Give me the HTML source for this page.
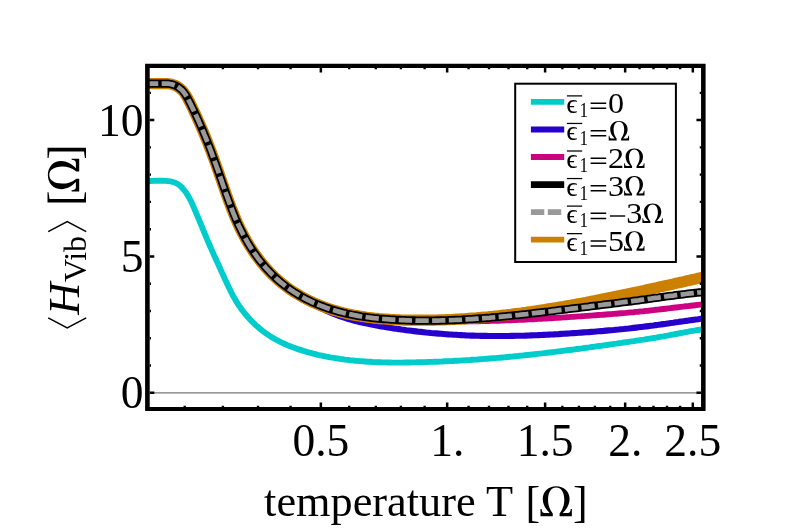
<!DOCTYPE html><html><head><meta charset="utf-8"><title>plot</title><style>html,body{margin:0;padding:0;background:#fff}svg{display:block;will-change:transform}text{font-family:"Liberation Serif",serif;fill:#000}</style></head><body>
<svg width="806" height="528" viewBox="0 0 806 528">
<rect width="806" height="528" fill="#fff"/>
<defs><path id="om" d="M0 0V-80H12C14 -55 22 -35 45 -35H100C55 -80 25 -130 25 -190C25 -275 90 -330 172.5 -330C255 -330 320 -275 320 -190C320 -130 290 -80 245 -35H300C323 -35 331 -55 333 -80H345V0H210V-30C245 -75 262 -120 262 -180C262 -265 225 -315 172.5 -315C120 -315 83 -265 83 -180C83 -120 100 -75 135 -30V0Z"/></defs>
<defs><clipPath id="c"><rect x="147.30" y="65.75" width="556.05" height="343.15"/></clipPath></defs>
<line x1="149.70" y1="392.80" x2="701.05" y2="392.80" stroke="#777" stroke-width="1.3"/>
<g clip-path="url(#c)" fill="none" stroke-linejoin="round">
<path d="M143.0 181.0 145.5 181.0 148.0 181.0 150.5 181.0 153.0 180.9 155.5 180.8 158.0 180.8 160.5 180.8 163.0 180.8 165.5 180.9 168.0 181.1 170.5 181.4 172.9 182.0 175.3 182.8 177.5 183.9 179.6 185.4 181.4 187.1 183.1 188.9 184.7 190.8 186.2 192.8 187.5 194.9 188.8 197.1 190.0 199.3 191.1 201.5 192.2 203.8 193.2 206.1 194.2 208.4 195.2 210.7 196.2 213.0 197.1 215.3 198.1 217.6 199.1 219.9 200.0 222.2 201.0 224.5 201.9 226.8 202.9 229.1 203.8 231.5 204.8 233.8 205.8 236.1 206.7 238.4 207.7 240.7 208.7 243.0 209.7 245.3 210.7 247.6 211.7 249.9 212.7 252.1 213.7 254.4 214.8 256.7 215.8 259.0 216.8 261.3 217.9 263.6 218.9 265.8 219.9 268.1 221.0 270.4 222.0 272.7 223.1 274.9 224.1 277.2 225.1 279.5 226.2 281.8 227.2 284.0 228.3 286.3 229.4 288.6 230.5 290.8 231.6 293.0 232.7 295.3 234.0 297.4 235.2 299.6 236.5 301.8 237.8 303.9 239.2 306.0 240.7 308.0 242.1 310.0 243.7 312.0 245.2 314.0 246.8 315.9 248.5 317.7 250.2 319.6 251.9 321.4 253.7 323.1 255.5 324.9 257.4 326.5 259.3 328.2 261.2 329.8 263.2 331.3 265.2 332.8 267.2 334.2 269.3 335.6 271.4 337.0 273.6 338.3 275.7 339.5 277.9 340.7 280.2 341.8 282.4 342.9 284.7 344.0 287.0 345.0 289.3 345.9 291.6 346.8 294.0 347.7 296.3 348.6 298.7 349.4 301.1 350.1 303.5 350.9 305.9 351.6 308.3 352.3 310.7 352.9 313.1 353.6 315.5 354.2 318.0 354.8 320.4 355.3 322.8 355.8 325.3 356.3 327.8 356.8 330.2 357.3 332.7 357.7 335.1 358.1 337.6 358.5 340.1 358.9 342.6 359.2 345.0 359.6 347.5 359.9 350.0 360.2 352.5 360.4 355.0 360.7 357.5 360.9 360.0 361.1 362.5 361.3 365.0 361.5 367.5 361.7 370.0 361.8 372.5 362.0 375.0 362.1 377.5 362.2 380.0 362.3 382.5 362.4 385.0 362.4 387.5 362.5 390.0 362.5 392.5 362.6 395.0 362.6 397.5 362.6 400.0 362.6 402.5 362.6 405.0 362.5 407.5 362.5 410.0 362.5 412.5 362.4 415.0 362.4 417.5 362.3 420.0 362.3 422.5 362.2 425.0 362.1 427.5 362.0 430.0 361.9 432.5 361.9 435.0 361.8 437.5 361.7 440.0 361.6 442.5 361.5 445.0 361.3 447.5 361.2 450.0 361.1 452.5 361.0 455.0 360.8 457.5 360.7 460.0 360.6 462.5 360.4 465.0 360.3 467.5 360.1 470.0 360.0 472.5 359.8 475.0 359.6 477.5 359.5 480.0 359.3 482.4 359.1 484.9 358.9 487.4 358.7 489.9 358.5 492.4 358.3 494.9 358.1 497.4 357.9 499.9 357.7 502.4 357.5 504.9 357.3 507.4 357.0 509.9 356.8 512.4 356.6 514.9 356.3 517.3 356.1 519.8 355.8 522.3 355.6 524.8 355.3 527.3 355.0 529.8 354.8 532.3 354.5 534.8 354.2 537.2 353.9 539.7 353.6 542.2 353.4 544.7 353.1 547.2 352.8 549.7 352.5 552.2 352.2 554.6 351.9 557.1 351.6 559.6 351.3 562.1 350.9 564.6 350.6 567.0 350.3 569.5 350.0 572.0 349.7 574.5 349.4 577.0 349.0 579.5 348.7 581.9 348.4 584.4 348.0 586.9 347.7 589.4 347.4 591.9 347.0 594.3 346.7 596.8 346.3 599.3 346.0 601.8 345.7 604.2 345.3 606.7 345.0 609.2 344.6 611.7 344.3 614.2 343.9 616.6 343.6 619.1 343.2 621.6 342.9 624.1 342.5 626.5 342.1 629.0 341.8 631.5 341.4 634.0 341.1 636.4 340.7 638.9 340.3 641.4 339.9 643.9 339.6 646.3 339.2 648.8 338.8 651.3 338.4 653.7 338.0 656.2 337.6 658.7 337.1 661.1 336.7 663.6 336.3 666.1 335.8 668.5 335.4 671.0 334.9 673.4 334.5 675.9 334.0 678.4 333.5 680.8 333.0 683.3 332.6 685.7 332.1 688.2 331.7 690.7 331.2 693.1 330.8 695.6 330.4 698.1 330.0 700.5 329.7 703.0 329.4 705.5 329.1 708.0 328.8" stroke="#00cccc" stroke-width="5.9"/>
<path d="M143.0 83.6 145.5 83.6 148.0 83.7 150.5 83.7 153.0 83.7 155.5 83.7 158.0 83.7 160.5 83.6 163.0 83.6 165.5 83.6 168.0 83.7 170.5 84.0 172.9 84.6 175.3 85.5 177.5 86.6 179.6 88.1 181.5 89.7 183.2 91.5 184.7 93.5 186.1 95.6 187.4 97.7 188.5 99.9 189.7 102.2 190.8 104.4 191.9 106.7 193.0 108.9 194.0 111.2 195.1 113.5 196.2 115.7 197.2 118.0 198.2 120.3 199.3 122.6 200.3 124.9 201.3 127.2 202.3 129.5 203.2 131.8 204.2 134.1 205.2 136.4 206.1 138.7 207.1 141.0 208.0 143.3 208.9 145.7 209.8 148.0 210.7 150.4 211.6 152.7 212.4 155.0 213.3 157.4 214.2 159.7 215.0 162.1 215.9 164.5 216.7 166.8 217.5 169.2 218.4 171.5 219.2 173.9 220.0 176.3 220.8 178.6 221.7 181.0 222.5 183.4 223.3 185.7 224.1 188.1 225.0 190.4 225.8 192.8 226.6 195.2 227.5 197.5 228.3 199.9 229.2 202.2 230.1 204.6 230.9 206.9 231.8 209.3 232.8 211.6 233.7 213.9 234.6 216.2 235.6 218.5 236.6 220.8 237.6 223.1 238.7 225.4 239.7 227.7 240.8 229.9 241.9 232.2 243.1 234.4 244.3 236.6 245.5 238.8 246.7 241.0 248.0 243.1 249.3 245.3 250.6 247.4 252.0 249.5 253.3 251.6 254.8 253.6 256.2 255.7 257.7 257.7 259.2 259.7 260.7 261.7 262.3 263.6 263.9 265.5 265.5 267.4 267.2 269.3 268.9 271.2 270.6 273.0 272.4 274.7 274.2 276.5 276.0 278.2 277.9 279.9 279.7 281.5 281.7 283.1 283.6 284.7 285.6 286.2 287.6 287.7 289.7 289.2 291.7 290.6 293.8 291.9 295.9 293.3 298.0 294.7 300.1 296.1 302.2 297.4 304.3 298.7 306.5 300.1 308.6 301.3 310.8 302.6 313.0 303.8 315.2 305.0 317.4 306.2 319.6 307.4 321.8 308.5 324.1 309.6 326.3 310.7 328.6 311.7 330.9 312.7 333.2 313.7 335.6 314.6 337.9 315.5 340.3 316.3 342.6 317.1 345.0 317.9 347.4 318.7 349.8 319.4 352.2 320.1 354.6 320.7 357.0 321.4 359.5 322.0 361.9 322.5 364.3 323.1 366.8 323.6 369.2 324.1 371.7 324.6 374.1 325.1 376.6 325.6 379.1 326.0 381.5 326.4 384.0 326.8 386.5 327.3 389.0 327.6 391.4 328.0 393.9 328.4 396.4 328.8 398.9 329.1 401.3 329.5 403.8 329.8 406.3 330.2 408.8 330.5 411.3 330.8 413.8 331.1 416.2 331.4 418.7 331.7 421.2 331.9 423.7 332.2 426.2 332.5 428.7 332.7 431.2 333.0 433.7 333.2 436.2 333.4 438.7 333.6 441.2 333.8 443.7 334.0 446.1 334.2 448.6 334.4 451.1 334.5 453.6 334.7 456.1 334.8 458.6 335.0 461.1 335.1 463.6 335.2 466.1 335.4 468.6 335.5 471.1 335.6 473.6 335.6 476.2 335.7 478.7 335.8 481.2 335.9 483.7 335.9 486.2 335.9 488.7 336.0 491.2 336.0 493.7 336.0 496.2 336.0 498.7 336.0 501.2 336.0 503.7 336.0 506.2 336.0 508.7 336.0 511.2 335.9 513.7 335.9 516.2 335.8 518.7 335.8 521.2 335.7 523.7 335.7 526.2 335.6 528.7 335.5 531.2 335.4 533.7 335.3 536.2 335.2 538.7 335.1 541.2 335.0 543.7 334.9 546.2 334.8 548.7 334.6 551.2 334.5 553.7 334.4 556.2 334.2 558.7 334.1 561.2 333.9 563.7 333.8 566.2 333.6 568.7 333.5 571.2 333.3 573.7 333.1 576.2 333.0 578.7 332.8 581.2 332.6 583.7 332.4 586.2 332.3 588.7 332.1 591.2 331.9 593.7 331.7 596.2 331.5 598.7 331.3 601.2 331.1 603.7 330.9 606.2 330.6 608.7 330.4 611.2 330.2 613.7 330.0 616.1 329.7 618.6 329.5 621.1 329.2 623.6 329.0 626.1 328.7 628.6 328.5 631.1 328.2 633.6 327.9 636.1 327.6 638.6 327.3 641.0 327.0 643.5 326.7 646.0 326.4 648.5 326.1 651.0 325.8 653.5 325.5 655.9 325.1 658.4 324.8 660.9 324.4 663.4 324.1 665.9 323.8 668.3 323.4 670.8 323.0 673.3 322.7 675.8 322.3 678.2 322.0 680.7 321.6 683.2 321.3 685.7 320.9 688.2 320.6 690.6 320.2 693.1 319.9 695.6 319.5 698.1 319.2 700.6 318.8 703.0 318.5 705.5 318.1 708.0 317.8" stroke="#2600cc" stroke-width="6.1"/>
<path d="M143.0 83.6 145.5 83.6 148.0 83.7 150.5 83.7 153.0 83.7 155.5 83.7 158.0 83.7 160.5 83.6 163.0 83.6 165.5 83.6 168.0 83.7 170.5 84.0 172.9 84.6 175.3 85.5 177.5 86.6 179.5 88.0 181.4 89.7 183.1 91.5 184.7 93.5 186.1 95.5 187.3 97.7 188.5 99.9 189.6 102.1 190.8 104.4 191.9 106.6 192.9 108.9 194.0 111.1 195.1 113.4 196.1 115.7 197.2 117.9 198.2 120.2 199.2 122.5 200.2 124.8 201.2 127.1 202.2 129.4 203.2 131.7 204.2 134.0 205.1 136.3 206.1 138.6 207.0 140.9 207.9 143.3 208.8 145.6 209.7 147.9 210.6 150.3 211.5 152.6 212.4 154.9 213.3 157.3 214.1 159.6 215.0 162.0 215.8 164.3 216.7 166.7 217.5 169.1 218.3 171.4 219.2 173.8 220.0 176.1 220.8 178.5 221.6 180.9 222.4 183.2 223.3 185.6 224.1 187.9 224.9 190.3 225.7 192.7 226.6 195.0 227.4 197.4 228.3 199.7 229.1 202.1 230.0 204.4 230.9 206.8 231.8 209.1 232.7 211.4 233.6 213.8 234.6 216.1 235.5 218.4 236.5 220.7 237.6 223.0 238.6 225.2 239.7 227.5 240.7 229.7 241.9 232.0 243.0 234.2 244.2 236.4 245.4 238.6 246.6 240.8 247.9 242.9 249.2 245.1 250.5 247.2 251.8 249.3 253.2 251.4 254.6 253.5 256.1 255.5 257.6 257.5 259.1 259.5 260.6 261.5 262.2 263.5 263.8 265.4 265.4 267.3 267.0 269.1 268.7 271.0 270.5 272.8 272.2 274.6 274.0 276.3 275.8 278.0 277.7 279.7 279.6 281.4 281.5 283.0 283.4 284.5 285.4 286.1 287.4 287.6 289.5 289.0 291.5 290.4 293.6 291.8 295.7 293.1 297.9 294.4 300.0 295.7 302.2 296.9 304.4 298.1 306.6 299.3 308.8 300.4 311.1 301.5 313.4 302.6 315.7 303.6 318.0 304.5 320.3 305.5 322.6 306.4 325.0 307.3 327.3 308.1 329.7 308.9 332.1 309.7 334.5 310.4 336.9 311.1 339.3 311.8 341.7 312.4 344.1 313.0 346.5 313.6 349.0 314.1 351.4 314.6 353.9 315.1 356.4 315.6 358.8 316.0 361.3 316.4 363.8 316.8 366.2 317.1 368.7 317.4 371.2 317.7 373.7 318.0 376.2 318.3 378.7 318.5 381.1 318.8 383.6 319.0 386.1 319.2 388.6 319.4 391.1 319.5 393.6 319.7 396.1 319.8 398.6 320.0 401.1 320.1 403.6 320.2 406.1 320.3 408.6 320.4 411.1 320.4 413.6 320.5 416.1 320.6 418.6 320.6 421.1 320.6 423.6 320.6 426.1 320.7 428.6 320.7 431.1 320.8 433.6 320.9 436.1 321.0 438.6 321.0 441.1 321.1 443.6 321.1 446.1 321.2 448.6 321.2 451.1 321.2 453.6 321.3 456.1 321.3 458.6 321.3 461.1 321.3 463.6 321.3 466.1 321.3 468.6 321.3 471.1 321.2 473.6 321.2 476.1 321.2 478.6 321.2 481.1 321.1 483.6 321.1 486.1 321.0 488.6 321.0 491.1 320.9 493.6 320.8 496.1 320.7 498.6 320.7 501.1 320.6 503.6 320.5 506.1 320.4 508.6 320.3 511.1 320.2 513.6 320.1 516.1 320.0 518.6 319.9 521.1 319.8 523.6 319.7 526.1 319.6 528.6 319.4 531.1 319.3 533.6 319.2 536.1 319.0 538.6 318.9 541.1 318.8 543.6 318.6 546.1 318.5 548.6 318.3 551.1 318.2 553.6 318.0 556.1 317.9 558.6 317.7 561.1 317.6 563.6 317.4 566.1 317.3 568.6 317.1 571.1 316.9 573.6 316.8 576.1 316.6 578.6 316.4 581.1 316.3 583.6 316.1 586.1 315.9 588.5 315.8 591.0 315.6 593.5 315.4 596.0 315.2 598.5 315.0 601.0 314.9 603.5 314.7 606.0 314.5 608.5 314.3 611.0 314.1 613.5 313.9 616.0 313.7 618.5 313.5 621.0 313.3 623.5 313.1 626.0 312.9 628.4 312.6 630.9 312.4 633.4 312.2 635.9 311.9 638.4 311.7 640.9 311.4 643.4 311.2 645.9 310.9 648.4 310.7 650.8 310.4 653.3 310.1 655.8 309.8 658.3 309.6 660.8 309.3 663.3 309.0 665.8 308.7 668.2 308.4 670.7 308.1 673.2 307.8 675.7 307.5 678.2 307.2 680.7 306.9 683.1 306.6 685.6 306.3 688.1 306.1 690.6 305.8 693.1 305.5 695.6 305.2 698.1 304.9 700.5 304.6 703.0 304.4 705.5 304.1 708.0 303.8" stroke="#cc0080" stroke-width="5.9"/>
<path d="M143.0 83.6 145.5 83.6 148.0 83.7 150.5 83.7 153.0 83.7 155.5 83.7 158.0 83.7 160.5 83.6 163.0 83.6 165.5 83.6 168.0 83.7 170.5 84.0 173.0 84.6 175.3 85.5 177.5 86.6 179.6 88.1 181.5 89.7 183.2 91.5 184.7 93.5 186.1 95.6 187.4 97.7 188.5 100.0 189.7 102.2 190.8 104.4 191.9 106.7 193.0 108.9 194.0 111.2 195.1 113.5 196.2 115.7 197.2 118.0 198.2 120.3 199.3 122.6 200.3 124.9 201.3 127.2 202.3 129.5 203.3 131.8 204.2 134.1 205.2 136.4 206.1 138.7 207.1 141.0 208.0 143.4 208.9 145.7 209.8 148.0 210.7 150.4 211.6 152.7 212.4 155.1 213.3 157.4 214.2 159.8 215.0 162.1 215.9 164.5 216.7 166.8 217.5 169.2 218.4 171.5 219.2 173.9 220.0 176.3 220.8 178.6 221.7 181.0 222.5 183.4 223.3 185.7 224.1 188.1 225.0 190.5 225.8 192.8 226.6 195.2 227.5 197.5 228.3 199.9 229.2 202.2 230.1 204.6 230.9 206.9 231.8 209.3 232.8 211.6 233.7 213.9 234.6 216.2 235.6 218.5 236.6 220.8 237.6 223.1 238.7 225.4 239.7 227.7 240.8 229.9 242.0 232.2 243.1 234.4 244.3 236.6 245.5 238.8 246.7 241.0 248.0 243.1 249.3 245.3 250.6 247.4 252.0 249.5 253.4 251.6 254.8 253.7 256.2 255.7 257.7 257.7 259.2 259.7 260.7 261.7 262.3 263.6 263.9 265.6 265.6 267.5 267.2 269.3 268.9 271.2 270.6 273.0 272.4 274.8 274.2 276.5 276.0 278.2 277.9 279.9 279.8 281.5 281.7 283.1 283.7 284.7 285.6 286.2 287.7 287.7 289.7 289.2 291.8 290.6 293.9 292.0 296.0 293.3 298.1 294.6 300.3 295.9 302.5 297.1 304.7 298.3 306.9 299.4 309.1 300.6 311.4 301.6 313.7 302.7 315.9 303.7 318.3 304.7 320.6 305.6 322.9 306.5 325.3 307.4 327.6 308.2 330.0 309.0 332.4 309.8 334.8 310.5 337.2 311.2 339.6 311.9 342.0 312.5 344.4 313.1 346.9 313.7 349.3 314.2 351.8 314.7 354.2 315.2 356.7 315.6 359.2 316.0 361.6 316.4 364.1 316.8 366.6 317.2 369.1 317.5 371.6 317.8 374.1 318.1 376.5 318.3 379.0 318.6 381.5 318.8 384.0 319.0 386.5 319.2 389.0 319.4 391.5 319.6 394.0 319.7 396.5 319.8 399.0 319.9 401.5 320.0 404.0 320.1 406.5 320.1 409.0 320.2 411.5 320.2 414.0 320.2 416.5 320.2 419.0 320.2 421.6 320.2 424.1 320.2 426.6 320.2 429.1 320.1 431.6 320.1 434.1 320.1 436.6 320.0 439.1 319.9 441.6 319.9 444.1 319.8 446.6 319.7 449.1 319.6 451.6 319.5 454.1 319.3 456.6 319.2 459.1 319.1 461.6 318.9 464.1 318.8 466.6 318.6 469.1 318.4 471.6 318.2 474.1 318.1 476.6 317.9 479.1 317.6 481.6 317.4 484.1 317.2 486.6 317.0 489.0 316.7 491.5 316.5 494.0 316.2 496.5 316.0 499.0 315.7 501.5 315.4 504.0 315.1 506.5 314.9 509.0 314.6 511.4 314.3 513.9 313.9 516.4 313.6 518.9 313.3 521.4 313.0 523.9 312.6 526.3 312.3 528.8 311.9 531.3 311.6 533.8 311.2 536.2 310.9 538.7 310.5 541.2 310.1 543.7 309.7 546.1 309.3 548.6 308.9 551.1 308.5 553.6 308.1 556.0 307.7 558.5 307.3 561.0 306.9 563.4 306.5 565.9 306.0 568.4 305.6 570.8 305.2 573.3 304.7 575.8 304.3 578.2 303.8 580.7 303.4 583.1 302.9 585.6 302.5 588.1 302.0 590.5 301.5 593.0 301.0 595.4 300.6 597.9 300.1 600.4 299.6 602.8 299.1 605.3 298.6 607.7 298.1 610.2 297.6 612.6 297.1 615.1 296.6 617.5 296.1 620.0 295.6 622.4 295.1 624.9 294.6 627.3 294.0 629.8 293.5 632.2 293.0 634.7 292.5 637.1 292.0 639.6 291.4 642.0 290.9 644.5 290.4 646.9 289.8 649.4 289.3 651.8 288.8 654.3 288.2 656.7 287.7 659.1 287.1 661.6 286.6 664.0 286.0 666.5 285.5 668.9 285.0 671.4 284.4 673.8 283.9 676.2 283.3 678.7 282.8 681.1 282.2 683.6 281.7 686.0 281.1 688.5 280.6 690.9 280.0 693.3 279.4 695.8 278.9 698.2 278.3 700.7 277.8 703.1 277.2 705.6 276.7 708.0 276.1" stroke="#cc8000" stroke-width="11.2"/>
<defs><path id="m" d="M143.0 83.6 145.5 83.6 148.0 83.7 150.5 83.7 153.0 83.7 155.5 83.7 158.0 83.7 160.5 83.6 163.0 83.6 165.5 83.6 168.0 83.7 170.5 84.0 173.0 84.6 175.3 85.5 177.5 86.6 179.6 88.1 181.5 89.7 183.2 91.5 184.7 93.5 186.1 95.6 187.4 97.8 188.5 100.0 189.7 102.2 190.8 104.4 191.9 106.7 193.0 109.0 194.1 111.2 195.1 113.5 196.2 115.7 197.2 118.0 198.3 120.3 199.3 122.6 200.3 124.9 201.3 127.2 202.3 129.5 203.3 131.8 204.2 134.1 205.2 136.4 206.1 138.7 207.1 141.1 208.0 143.4 208.9 145.7 209.8 148.0 210.7 150.4 211.6 152.7 212.4 155.1 213.3 157.4 214.2 159.8 215.0 162.1 215.9 164.5 216.7 166.9 217.5 169.2 218.4 171.6 219.2 173.9 220.0 176.3 220.9 178.7 221.7 181.0 222.5 183.4 223.3 185.8 224.2 188.1 225.0 190.5 225.8 192.9 226.6 195.2 227.5 197.6 228.3 199.9 229.2 202.3 230.1 204.6 231.0 207.0 231.9 209.3 232.8 211.6 233.7 214.0 234.7 216.3 235.6 218.6 236.6 220.9 237.7 223.2 238.7 225.5 239.8 227.7 240.9 230.0 242.0 232.2 243.1 234.4 244.3 236.6 245.5 238.8 246.8 241.0 248.0 243.2 249.3 245.3 250.6 247.4 252.0 249.5 253.4 251.6 254.8 253.7 256.3 255.7 257.7 257.8 259.2 259.8 260.8 261.7 262.4 263.7 264.0 265.6 265.6 267.5 267.3 269.4 269.0 271.2 270.7 273.0 272.5 274.8 274.3 276.5 276.1 278.3 277.9 279.9 279.8 281.6 281.8 283.2 283.7 284.7 285.7 286.3 287.7 287.8 289.8 289.2 291.8 290.6 293.9 292.0 296.0 293.3 298.2 294.6 300.3 295.9 302.5 297.1 304.7 298.3 306.9 299.5 309.2 300.6 311.4 301.7 313.7 302.7 316.0 303.7 318.3 304.7 320.6 305.6 323.0 306.5 325.3 307.4 327.7 308.2 330.1 309.0 332.5 309.8 334.9 310.5 337.3 311.2 339.7 311.9 342.1 312.5 344.5 313.1 347.0 313.7 349.4 314.2 351.9 314.7 354.3 315.2 356.8 315.6 359.3 316.1 361.7 316.5 364.2 316.8 366.7 317.2 369.2 317.5 371.7 317.8 374.1 318.1 376.6 318.3 379.1 318.6 381.6 318.8 384.1 319.0 386.6 319.2 389.1 319.4 391.6 319.6 394.1 319.7 396.6 319.9 399.1 320.0 401.6 320.1 404.1 320.2 406.6 320.3 409.1 320.4 411.6 320.5 414.1 320.5 416.6 320.6 419.1 320.6 421.6 320.6 424.2 320.6 426.7 320.6 429.2 320.6 431.7 320.6 434.2 320.6 436.7 320.5 439.2 320.5 441.7 320.4 444.2 320.4 446.7 320.3 449.2 320.2 451.7 320.1 454.2 320.0 456.7 319.9 459.2 319.8 461.7 319.7 464.2 319.5 466.7 319.4 469.2 319.2 471.7 319.1 474.2 318.9 476.7 318.7 479.2 318.5 481.7 318.4 484.2 318.2 486.7 318.0 489.2 317.8 491.7 317.5 494.2 317.3 496.7 317.1 499.2 316.9 501.7 316.6 504.2 316.4 506.6 316.2 509.1 315.9 511.6 315.7 514.1 315.4 516.6 315.1 519.1 314.9 521.6 314.6 524.1 314.3 526.6 314.1 529.1 313.8 531.5 313.5 534.0 313.2 536.5 312.9 539.0 312.6 541.5 312.3 544.0 312.0 546.5 311.8 549.0 311.5 551.4 311.2 553.9 310.8 556.4 310.5 558.9 310.2 561.4 309.9 563.9 309.6 566.4 309.3 568.8 309.0 571.3 308.7 573.8 308.4 576.3 308.1 578.8 307.8 581.3 307.5 583.8 307.2 586.2 306.9 588.7 306.6 591.2 306.2 593.7 305.9 596.2 305.6 598.7 305.3 601.2 305.0 603.6 304.7 606.1 304.4 608.6 304.1 611.1 303.8 613.6 303.5 616.1 303.2 618.6 302.9 621.0 302.5 623.5 302.2 626.0 301.9 628.5 301.6 631.0 301.3 633.5 300.9 635.9 300.6 638.4 300.3 640.9 299.9 643.4 299.6 645.9 299.3 648.4 298.9 650.8 298.6 653.3 298.2 655.8 297.9 658.3 297.6 660.8 297.2 663.2 296.9 665.7 296.5 668.2 296.2 670.7 295.9 673.2 295.6 675.7 295.2 678.1 294.9 680.6 294.6 683.1 294.3 685.6 294.0 688.1 293.7 690.6 293.4 693.1 293.1 695.5 292.8 698.0 292.5 700.5 292.3 703.0 292.0 705.5 291.8 708.0 291.5"/></defs><use href="#m" stroke="#000" stroke-width="8.3"/>
<use href="#m" stroke="#999" stroke-width="4.75" stroke-dasharray="13.3 3.37" stroke-dashoffset="14.7"/>
</g>
<g stroke="#000" fill="none"><path d="M184.70 407.10v-1.30M184.70 68.00v1.30" stroke-width="2.4"/><path d="M222.90 407.10v-1.30M222.90 68.00v1.30" stroke-width="2.4"/><path d="M258.04 407.10v-1.30M258.04 68.00v1.30" stroke-width="2.4"/><path d="M290.57 407.10v-1.30M290.57 68.00v1.30" stroke-width="2.4"/><path d="M320.86 407.10v-4.60M320.86 68.00v4.60" stroke-width="2.5"/><path d="M349.19 407.10v-1.30M349.19 68.00v1.30" stroke-width="2.4"/><path d="M375.81 407.10v-1.30M375.81 68.00v1.30" stroke-width="2.4"/><path d="M400.90 407.10v-1.30M400.90 68.00v1.30" stroke-width="2.4"/><path d="M424.63 407.10v-1.30M424.63 68.00v1.30" stroke-width="2.4"/><path d="M447.15 407.10v-4.60M447.15 68.00v4.60" stroke-width="2.5"/><path d="M468.57 407.10v-1.30M468.57 68.00v1.30" stroke-width="2.4"/><path d="M488.99 407.10v-1.30M488.99 68.00v1.30" stroke-width="2.4"/><path d="M508.51 407.10v-1.30M508.51 68.00v1.30" stroke-width="2.4"/><path d="M527.19 407.10v-1.30M527.19 68.00v1.30" stroke-width="2.4"/><path d="M545.11 407.10v-4.60M545.11 68.00v4.60" stroke-width="2.5"/><path d="M562.33 407.10v-1.30M562.33 68.00v1.30" stroke-width="2.4"/><path d="M578.90 407.10v-1.30M578.90 68.00v1.30" stroke-width="2.4"/><path d="M594.86 407.10v-1.30M594.86 68.00v1.30" stroke-width="2.4"/><path d="M610.27 407.10v-1.30M610.27 68.00v1.30" stroke-width="2.4"/><path d="M625.15 407.10v-4.60M625.15 68.00v4.60" stroke-width="2.5"/><path d="M639.55 407.10v-1.30M639.55 68.00v1.30" stroke-width="2.4"/><path d="M653.48 407.10v-1.30M653.48 68.00v1.30" stroke-width="2.4"/><path d="M666.99 407.10v-1.30M666.99 68.00v1.30" stroke-width="2.4"/><path d="M680.10 407.10v-1.30M680.10 68.00v1.30" stroke-width="2.4"/><path d="M692.82 407.10v-4.60M692.82 68.00v4.60" stroke-width="2.5"/><path d="M149.70 392.80h4.60M701.05 392.80h-4.60" stroke-width="2.5"/><path d="M149.70 365.53h1.30M701.05 365.53h-1.30" stroke-width="2.4"/><path d="M149.70 338.26h1.30M701.05 338.26h-1.30" stroke-width="2.4"/><path d="M149.70 310.99h1.30M701.05 310.99h-1.30" stroke-width="2.4"/><path d="M149.70 283.72h1.30M701.05 283.72h-1.30" stroke-width="2.4"/><path d="M149.70 256.45h4.60M701.05 256.45h-4.60" stroke-width="2.5"/><path d="M149.70 229.18h1.30M701.05 229.18h-1.30" stroke-width="2.4"/><path d="M149.70 201.91h1.30M701.05 201.91h-1.30" stroke-width="2.4"/><path d="M149.70 174.64h1.30M701.05 174.64h-1.30" stroke-width="2.4"/><path d="M149.70 147.37h1.30M701.05 147.37h-1.30" stroke-width="2.4"/><path d="M149.70 120.10h4.60M701.05 120.10h-4.60" stroke-width="2.5"/><path d="M149.70 92.83h1.30M701.05 92.83h-1.30" stroke-width="2.4"/></g>
<path fill-rule="evenodd" fill="#000" d="M145.1 63.7H705.6V411H145.1ZM149.70 68.00H701.05V407.10H149.70Z"/>
<text x="143.5" y="135.6" font-size="45.5" text-anchor="end">10</text>
<text x="143.5" y="272.0" font-size="45.5" text-anchor="end">5</text>
<text x="143.5" y="408.3" font-size="45.5" text-anchor="end">0</text>
<text x="320.9" y="455.7" font-size="45.5" text-anchor="middle">0.5</text>
<text x="447.2" y="455.7" font-size="45.5" text-anchor="middle">1.</text>
<text x="545.1" y="455.7" font-size="45.5" text-anchor="middle">1.5</text>
<text x="625.2" y="455.7" font-size="45.5" text-anchor="middle">2.</text>
<text x="692.8" y="455.7" font-size="45.5" text-anchor="middle">2.5</text>
<text x="264.1" y="516" font-size="44.3">temperature T</text>
<text x="525.4" y="517.2" font-size="44">[</text>
<use href="#om" transform="translate(540.50 516.20) scale(0.0909)"/>
<text x="572.9" y="517.2" font-size="44">]</text>
<g transform="translate(79.2,329) rotate(-90)">
<path d="M11.2 -31L1.2 -12L11.2 7" fill="none" stroke="#000" stroke-width="1.5"/>
<text x="14.3" y="-0.4" font-size="44.5" font-style="italic">H</text>
<text x="47" y="7.1" font-size="32">Vib</text>
<path d="M97.4 -31L107.4 -12L97.4 7" fill="none" stroke="#000" stroke-width="1.5"/>
<text x="123.1" y="0.8" font-size="46">[</text>
<use href="#om" transform="translate(137.50 0.00) scale(0.0950)"/>
<text x="169.3" y="0.8" font-size="46">]</text>
</g>
<rect x="515.20" y="83.70" width="160.70" height="178.30" fill="#fff" stroke="#000" stroke-width="2"/>
<line x1="530.9" y1="101.90" x2="564.2" y2="101.90" stroke="#00cccc" stroke-width="5.9"/>
<path d="M566.9 95.90H582.2" stroke="#000" stroke-width="1.25" fill="none"/>
<text x="566.3" y="112.90" font-size="28">ϵ</text>
<text transform="translate(583.7 117.10) scale(0.82 1)" text-anchor="middle" x="0" y="0" font-size="21">1</text>
<path d="M590.6 103.15H606.2M590.6 108.20H606.2" stroke="#000" stroke-width="1.5" fill="none"/>
<text transform="translate(615.90 112.90) scale(1.06 1)" text-anchor="middle" x="0" y="0" font-size="30.3">0</text>
<line x1="530.9" y1="129.45" x2="564.2" y2="129.45" stroke="#2600cc" stroke-width="5.9"/>
<path d="M566.9 123.45H582.2" stroke="#000" stroke-width="1.25" fill="none"/>
<text x="566.3" y="140.45" font-size="28">ϵ</text>
<text transform="translate(583.7 144.65) scale(0.82 1)" text-anchor="middle" x="0" y="0" font-size="21">1</text>
<path d="M590.6 130.70H606.2M590.6 135.75H606.2" stroke="#000" stroke-width="1.5" fill="none"/>
<use href="#om" transform="translate(608.70 140.45) scale(0.0591)"/>
<line x1="530.9" y1="157.00" x2="564.2" y2="157.00" stroke="#cc0080" stroke-width="5.9"/>
<path d="M566.9 151.00H582.2" stroke="#000" stroke-width="1.25" fill="none"/>
<text x="566.3" y="168.00" font-size="28">ϵ</text>
<text transform="translate(583.7 172.20) scale(0.82 1)" text-anchor="middle" x="0" y="0" font-size="21">1</text>
<path d="M590.6 158.25H606.2M590.6 163.30H606.2" stroke="#000" stroke-width="1.5" fill="none"/>
<text transform="translate(615.90 168.00) scale(1.06 1)" text-anchor="middle" x="0" y="0" font-size="30.3">2</text>
<use href="#om" transform="translate(624.10 168.00) scale(0.0591)"/>
<line x1="530.9" y1="184.55" x2="564.2" y2="184.55" stroke="#000" stroke-width="6.7"/>
<path d="M566.9 178.55H582.2" stroke="#000" stroke-width="1.25" fill="none"/>
<text x="566.3" y="195.55" font-size="28">ϵ</text>
<text transform="translate(583.7 199.75) scale(0.82 1)" text-anchor="middle" x="0" y="0" font-size="21">1</text>
<path d="M590.6 185.80H606.2M590.6 190.85H606.2" stroke="#000" stroke-width="1.5" fill="none"/>
<text transform="translate(615.90 195.55) scale(1.06 1)" text-anchor="middle" x="0" y="0" font-size="30.3">3</text>
<use href="#om" transform="translate(624.10 195.55) scale(0.0591)"/>
<line x1="530.9" y1="212.10" x2="564.2" y2="212.10" stroke="#999" stroke-width="5.9" stroke-dasharray="13.4 3.5"/>
<path d="M566.9 206.10H582.2" stroke="#000" stroke-width="1.25" fill="none"/>
<text x="566.3" y="223.10" font-size="28">ϵ</text>
<text transform="translate(583.7 227.30) scale(0.82 1)" text-anchor="middle" x="0" y="0" font-size="21">1</text>
<path d="M590.6 213.35H606.2M590.6 218.40H606.2" stroke="#000" stroke-width="1.5" fill="none"/>
<path d="M609.9 216.00H625.2" stroke="#000" stroke-width="1.4" fill="none"/>
<text transform="translate(634.20 223.10) scale(1.06 1)" text-anchor="middle" x="0" y="0" font-size="30.3">3</text>
<use href="#om" transform="translate(642.40 223.10) scale(0.0591)"/>
<line x1="530.9" y1="239.65" x2="564.2" y2="239.65" stroke="#cc8000" stroke-width="5.9"/>
<path d="M566.9 233.65H582.2" stroke="#000" stroke-width="1.25" fill="none"/>
<text x="566.3" y="250.65" font-size="28">ϵ</text>
<text transform="translate(583.7 254.85) scale(0.82 1)" text-anchor="middle" x="0" y="0" font-size="21">1</text>
<path d="M590.6 240.90H606.2M590.6 245.95H606.2" stroke="#000" stroke-width="1.5" fill="none"/>
<text transform="translate(615.90 250.65) scale(1.06 1)" text-anchor="middle" x="0" y="0" font-size="30.3">5</text>
<use href="#om" transform="translate(624.10 250.65) scale(0.0591)"/>
</svg></body></html>
